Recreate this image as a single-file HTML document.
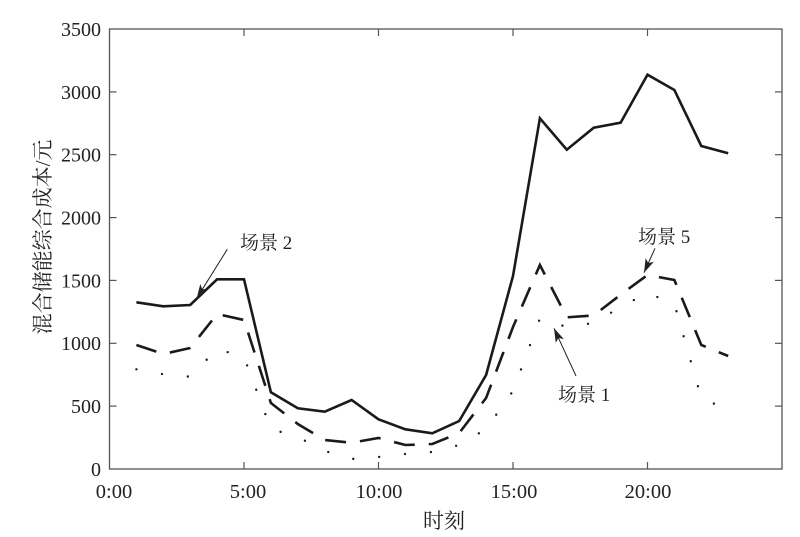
<!DOCTYPE html>
<html><head><meta charset="utf-8"><style>
html,body{margin:0;padding:0;background:#fff;}
svg{display:block;}
text{font-family:"Liberation Serif","Noto Serif CJK SC",serif;fill:#222;}
</style></head><body>
<svg width="800" height="537" viewBox="0 0 800 537" xmlns="http://www.w3.org/2000/svg">
<defs>
<marker id="ah" viewBox="0 0 14 9" refX="14" refY="4.5" markerWidth="14" markerHeight="9" markerUnits="userSpaceOnUse" orient="auto">
<path d="M0,0 L14,4.5 L0,9 L3.5,4.5 z" fill="#222"/>
</marker>
</defs>
<!-- frame -->
<rect x="109.5" y="29" width="672.5" height="440" fill="none" stroke="#555" stroke-width="1.3"/>
<!-- ticks -->
<g stroke="#555" stroke-width="1.2">
<line x1="244" y1="469" x2="244" y2="462"/><line x1="378.5" y1="469" x2="378.5" y2="462"/><line x1="513" y1="469" x2="513" y2="462"/><line x1="647.5" y1="469" x2="647.5" y2="462"/>
<line x1="244" y1="29" x2="244" y2="36"/><line x1="378.5" y1="29" x2="378.5" y2="36"/><line x1="513" y1="29" x2="513" y2="36"/><line x1="647.5" y1="29" x2="647.5" y2="36"/>
<line x1="109.5" y1="406.1" x2="116.5" y2="406.1"/><line x1="109.5" y1="343.3" x2="116.5" y2="343.3"/><line x1="109.5" y1="280.4" x2="116.5" y2="280.4"/><line x1="109.5" y1="217.6" x2="116.5" y2="217.6"/><line x1="109.5" y1="154.7" x2="116.5" y2="154.7"/><line x1="109.5" y1="91.9" x2="116.5" y2="91.9"/>
<line x1="782" y1="406.1" x2="775" y2="406.1"/><line x1="782" y1="343.3" x2="775" y2="343.3"/><line x1="782" y1="280.4" x2="775" y2="280.4"/><line x1="782" y1="217.6" x2="775" y2="217.6"/><line x1="782" y1="154.7" x2="775" y2="154.7"/><line x1="782" y1="91.9" x2="775" y2="91.9"/>
</g>
<!-- y tick labels -->
<g font-size="20" text-anchor="end">
<text x="101" y="476">0</text>
<text x="101" y="413">500</text>
<text x="101" y="350">1000</text>
<text x="101" y="287.5">1500</text>
<text x="101" y="224.5">2000</text>
<text x="101" y="161.5">2500</text>
<text x="101" y="99">3000</text>
<text x="101" y="36">3500</text>
</g>
<!-- x tick labels -->
<g font-size="20.5" text-anchor="middle">
<text x="114" y="498">0:00</text>
<text x="248" y="498">5:00</text>
<text x="379" y="498">10:00</text>
<text x="514" y="498">15:00</text>
<text x="648" y="498">20:00</text>
</g>
<text x="444" y="528" font-size="21" text-anchor="middle">时刻</text>
<text transform="translate(50,237) rotate(-90)" font-size="21" text-anchor="middle">混合储能综合成本/元</text>
<!-- solid: scenario 2 -->
<polyline fill="none" stroke="#1a1a1a" stroke-width="2.6" stroke-linejoin="miter" points="136.4,302.3 163.3,306.3 190.2,305 217.1,279.3 244,279.3 270.9,392.3 297.8,408.3 324.7,411.7 351.6,400 378.5,419.3 405.4,429.3 432.3,433.3 459.2,421 486.1,375 513,276 539.9,118.3 566.8,149.7 593.7,127.7 620.6,122.7 647.5,74.7 674.4,90 701.3,146 728.2,153.3"/>
<!-- dashed: scenario 5 -->
<polyline fill="none" stroke="#1a1a1a" stroke-width="2.6" stroke-dasharray="21 14" points="136.4,345 163.3,354 190.2,348 217.1,314 244,320 270.9,403 297.8,424 324.7,440 351.6,442.7 378.5,438 405.4,445 432.3,444 459.2,433 486.1,398 513,327 539.9,265 566.8,317.3 593.7,315.5 620.6,294.7 647.5,275 674.4,280 701.3,345 728.2,356"/>
<!-- dotted: scenario 1 -->
<polyline fill="none" stroke="#1a1a1a" stroke-width="2.4" stroke-linecap="round" stroke-dasharray="0 26" points="136.4,369.3 163.3,374.3 190.2,376.7 217.1,349 244,357 270.9,429 297.8,437 324.7,451 351.6,459 378.5,457 405.4,454 432.3,452 459.2,445 486.1,429 513,391 539.9,318.5 566.8,327 593.7,323 620.6,307 647.5,293 674.4,304 701.3,398 728.2,410"/>
<!-- annotations -->
<g stroke="#222" stroke-width="1" fill="none">
<line x1="227.3" y1="249.3" x2="196.7" y2="298.3" marker-end="url(#ah)"/>
<line x1="655" y1="248.3" x2="644" y2="272.7" marker-end="url(#ah)"/>
<line x1="576" y1="376" x2="554" y2="328.3" marker-end="url(#ah)"/>
</g>
<g font-size="19">
<text x="240" y="249">场景 2</text>
<text x="638" y="243">场景 5</text>
<text x="558" y="401">场景 1</text>
</g>
</svg>
</body></html>
